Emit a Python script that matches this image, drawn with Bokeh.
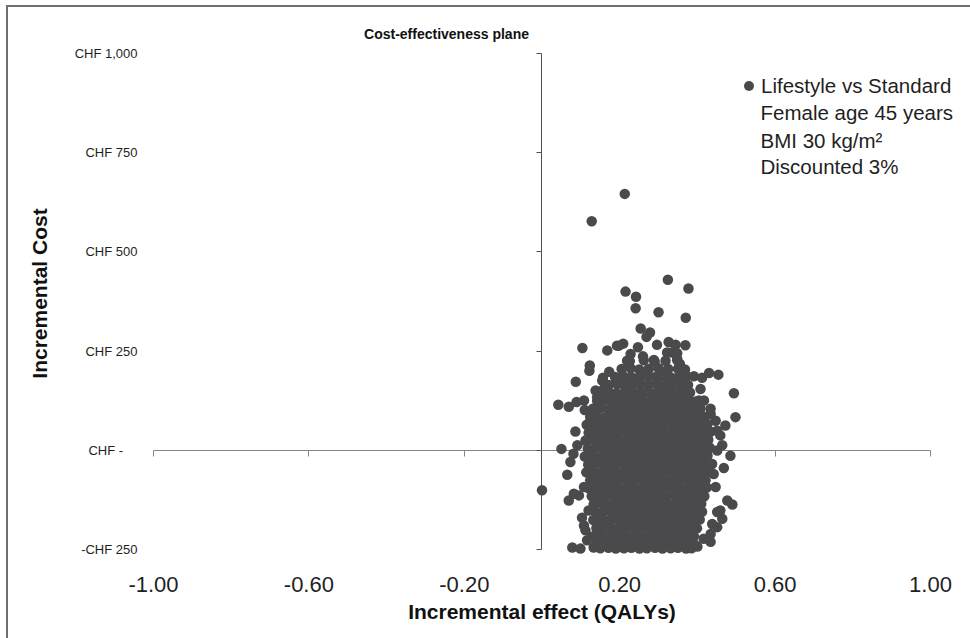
import math
from bokeh.plotting import figure
from bokeh.models import (Range1d, FixedTicker, NumeralTickFormatter, LinearAxis,
                          Label, ColumnDataSource, CustomJSTickFormatter)
from bokeh.embed import file_html
from bokeh.resources import INLINE

FONT = "Liberation Sans"

# ---------------- data ----------------
x_ticks = [-1.0, -0.6, -0.2, 0.2, 0.6, 1.0]
y_ticks = [-250, 0, 250, 500, 750, 1000]
y_tick_labels = ["-CHF 250", "CHF -\u00a0\u00a0\u00a0\u00a0", "CHF 250", "CHF 500",
                 "CHF 750", "CHF 1,000"]

series_name = "Lifestyle vs Standard"
series_notes = ["Female age 45 years", "BMI 30 kg/m\u00b2", "Discounted 3%"]

# scattered replicates around the main cloud
outlier_effect = [0.213, 0.128, 0.324, 0.377, 0.215, 0.242, 0.241, 0.300, 0.370, 0.254,
                  0.278, 0.269, 0.104, 0.168, 0.193, 0.209, 0.247, 0.296, 0.326, 0.344,
                  0.369, 0.333, 0.348, 0.228, 0.219, 0.260, 0.288, 0.123, 0.122, 0.173,
                  0.087, 0.157, 0.192, 0.391, 0.412, 0.430, 0.454, 0.494, 0.365, 0.355,
                  0.322, 0.271, 0.228, 0.408, 0.042, 0.069, 0.089, 0.108, 0.110, 0.138,
                  0.155, 0.498, 0.472, 0.417, 0.434, 0.447, 0.086, 0.000, 0.050, 0.073,
                  0.065, 0.069, 0.095, 0.103, 0.112, 0.116, 0.078, 0.099, 0.133, 0.485,
                  0.468, 0.447, 0.490, 0.477, 0.459, 0.464, 0.451, 0.434, 0.400, 0.459,
                  0.464, 0.081, 0.091, 0.082, 0.108, 0.120, 0.108, 0.129, 0.442, 0.451,
                  0.438, 0.451, 0.438, 0.416, 0.434, 0.404, 0.391, 0.434, 0.451, 0.125,
                  0.142, 0.159, 0.198, 0.322, 0.348]
outlier_cost = [646, 577, 430, 408, 400, 387, 358, 348, 334, 307,
                297, 286, 258, 252, 264, 269, 260, 266, 273, 266,
                265, 247, 245, 243, 226, 237, 228, 214, 201, 198,
                173, 183, 174, 187, 183, 195, 191, 144, 203, 218,
                201, 201, 184, 155, 115, 110, 122, 126, 102, 151,
                176, 84, 63, 126, 105, 75, 48, -100, 4, -29,
                -61, -126, -113, -169, -201, -226, -244, -247, -244, -13,
                -44, -92, -136, -126, -151, -172, -193, -230, -242, 38,
                13, -8, 13, -109, -92, -151, -189, -218, -59, 0,
                -34, -155, -185, -222, -210, 126, 101, 92, 50, 76,
                134, 155, 264, 247, 231]

# dense core of the cloud, one line per cost band
cloud_effect = [
    0.226, 0.262, 0.290, 0.318, 0.348,
    0.205, 0.228, 0.250, 0.275, 0.300, 0.325, 0.350, 0.368,
    0.188, 0.209, 0.231, 0.252, 0.271, 0.292, 0.311, 0.332, 0.352, 0.372,
    0.172, 0.194, 0.213, 0.236, 0.255, 0.276, 0.297, 0.318, 0.337, 0.358, 0.376,
    0.158, 0.171, 0.190, 0.211, 0.230, 0.251, 0.270, 0.291, 0.310, 0.331, 0.350, 0.371, 0.381,
    0.142, 0.161, 0.180, 0.201, 0.220, 0.241, 0.260, 0.281, 0.300, 0.321, 0.340, 0.361, 0.380, 0.398,
    0.131, 0.150, 0.171, 0.190, 0.211, 0.230, 0.251, 0.270, 0.291, 0.310, 0.331, 0.350, 0.371, 0.390, 0.408,
    0.124, 0.140, 0.161, 0.180, 0.201, 0.220, 0.241, 0.260, 0.281, 0.300, 0.321, 0.340, 0.361, 0.380, 0.401, 0.418,
    0.115, 0.131, 0.150, 0.171, 0.190, 0.211, 0.230, 0.251, 0.270, 0.291, 0.310, 0.331, 0.350, 0.371, 0.390, 0.411, 0.426,
    0.120, 0.141, 0.160, 0.181, 0.200, 0.221, 0.240, 0.261, 0.280, 0.301, 0.320, 0.341, 0.360, 0.381, 0.400, 0.421, 0.434,
    0.112, 0.131, 0.150, 0.171, 0.190, 0.211, 0.230, 0.251, 0.270, 0.291, 0.310, 0.331, 0.350, 0.371, 0.390, 0.411, 0.428,
    0.118, 0.140, 0.161, 0.180, 0.201, 0.220, 0.241, 0.260, 0.281, 0.300, 0.321, 0.340, 0.361, 0.380, 0.401, 0.420, 0.432,
    0.110, 0.130, 0.151, 0.170, 0.191, 0.210, 0.231, 0.250, 0.271, 0.290, 0.311, 0.330, 0.351, 0.370, 0.391, 0.410, 0.426,
    0.119, 0.140, 0.161, 0.180, 0.201, 0.220, 0.241, 0.260, 0.281, 0.300, 0.321, 0.340, 0.361, 0.380, 0.401, 0.420, 0.431,
    0.114, 0.131, 0.150, 0.171, 0.190, 0.211, 0.230, 0.251, 0.270, 0.291, 0.310, 0.331, 0.350, 0.371, 0.390, 0.411, 0.428,
    0.124, 0.141, 0.160, 0.181, 0.200, 0.221, 0.240, 0.261, 0.280, 0.301, 0.320, 0.341, 0.360, 0.381, 0.400, 0.421,
    0.120, 0.131, 0.150, 0.171, 0.190, 0.211, 0.230, 0.251, 0.270, 0.291, 0.310, 0.331, 0.350, 0.371, 0.390, 0.411, 0.424,
    0.128, 0.141, 0.160, 0.181, 0.200, 0.221, 0.240, 0.261, 0.280, 0.301, 0.320, 0.341, 0.360, 0.381, 0.400, 0.418,
    0.133, 0.151, 0.170, 0.191, 0.210, 0.231, 0.250, 0.271, 0.290, 0.311, 0.330, 0.351, 0.370, 0.391, 0.410,
    0.138, 0.160, 0.181, 0.200, 0.221, 0.240, 0.261, 0.280, 0.301, 0.320, 0.341, 0.360, 0.381, 0.400, 0.412,
    0.132, 0.151, 0.170, 0.191, 0.210, 0.231, 0.250, 0.271, 0.290, 0.311, 0.330, 0.351, 0.370, 0.391, 0.406,
    0.140, 0.161, 0.180, 0.201, 0.220, 0.241, 0.260, 0.281, 0.300, 0.321, 0.340, 0.361, 0.380, 0.399,
    0.134, 0.151, 0.170, 0.191, 0.210, 0.231, 0.250, 0.271, 0.290, 0.311, 0.330, 0.351, 0.370, 0.391,
    0.141, 0.160, 0.181, 0.200, 0.221, 0.240, 0.261, 0.280, 0.301, 0.320, 0.341, 0.360, 0.381, 0.392,
    0.150, 0.171, 0.190, 0.211, 0.230, 0.251, 0.270, 0.291, 0.310, 0.331, 0.350, 0.371, 0.385,
]
cloud_cost = [
    225, 227, 224, 226, 227,
    205, 207, 204, 206, 207, 205, 206, 204,
    185, 187, 184, 186, 187, 185, 186, 184, 186, 187,
    165, 167, 164, 166, 167, 165, 166, 164, 166, 167, 165,
    145, 147, 144, 146, 147, 145, 146, 144, 146, 147, 145, 147, 146,
    125, 127, 124, 126, 127, 125, 126, 124, 126, 127, 125, 127, 126, 124,
    105, 107, 104, 106, 107, 105, 106, 104, 106, 107, 105, 107, 106, 104, 106,
    85, 87, 84, 86, 87, 85, 86, 84, 86, 87, 85, 87, 86, 84, 86, 85,
    65, 67, 64, 66, 67, 65, 66, 64, 66, 67, 65, 67, 66, 64, 66, 65, 67,
    45, 47, 44, 46, 47, 45, 46, 44, 46, 47, 45, 47, 46, 44, 46, 45, 47,
    25, 27, 24, 26, 27, 25, 26, 24, 26, 27, 25, 27, 26, 24, 26, 25, 27,
    5, 7, 4, 6, 7, 5, 6, 4, 6, 7, 5, 7, 6, 4, 6, 5, 7,
    -15, -13, -16, -14, -13, -15, -14, -16, -14, -13, -15, -13, -14, -16, -14, -15, -13,
    -35, -33, -36, -34, -33, -35, -34, -36, -34, -33, -35, -33, -34, -36, -34, -35, -33,
    -55, -53, -56, -54, -53, -55, -54, -56, -54, -53, -55, -53, -54, -56, -54, -55, -53,
    -75, -73, -76, -74, -73, -75, -74, -76, -74, -73, -75, -73, -74, -76, -74, -75,
    -95, -93, -96, -94, -93, -95, -94, -96, -94, -93, -95, -93, -94, -96, -94, -95, -93,
    -115, -113, -116, -114, -113, -115, -114, -116, -114, -113, -115, -113, -114, -116, -114, -115,
    -135, -133, -136, -134, -133, -135, -134, -136, -134, -133, -135, -133, -134, -136, -134,
    -155, -153, -156, -154, -153, -155, -154, -156, -154, -153, -155, -153, -154, -156, -154,
    -175, -173, -176, -174, -173, -175, -174, -176, -174, -173, -175, -173, -174, -176, -174,
    -195, -193, -196, -194, -193, -195, -194, -196, -194, -193, -195, -193, -194, -196,
    -215, -213, -216, -214, -213, -215, -214, -216, -214, -213, -215, -213, -214, -216,
    -235, -233, -236, -234, -233, -235, -234, -236, -234, -233, -235, -233, -234, -236,
    -246, -245, -247, -246, -245, -247, -246, -245, -247, -246, -245, -247, -246,
]

effect = outlier_effect + cloud_effect
cost = outlier_cost + cloud_cost

# ---------------- figure ----------------
DOT = "#4a4a4c"
TXT = "#1f1f1f"
BORDER = "#6f6f6f"

# frame fills the whole canvas; axes are placed with fixed_location
p = figure(width=970, height=638,
           x_range=Range1d(-1.39382, 1.10296), y_range=Range1d(-473.31, 1132.93),
           x_axis_location=None, y_axis_location=None,
           output_backend="svg", toolbar_location=None,
           min_border_left=0, min_border_right=0, min_border_top=0, min_border_bottom=0)
p.outline_line_color = None
p.background_fill_alpha = 0
p.border_fill_alpha = 0
for g in p.grid:
    g.visible = False
p.styles = {"background": ("linear-gradient(%s, %s) 6px 5px / 2px 700px no-repeat, "
                           "linear-gradient(%s, %s) 6px 5px / 1000px 2px no-repeat, #ffffff")
                          % (BORDER, BORDER, BORDER, BORDER)}

blank = CustomJSTickFormatter(code="return ''")

# tick labels at the low edges of the plot area
xa = LinearAxis(fixed_location=-266.87, ticker=FixedTicker(ticks=x_ticks),
                formatter=NumeralTickFormatter(format="0.00"),
                axis_line_color=None, major_tick_out=0, major_tick_in=0,
                minor_tick_out=0, minor_tick_in=0,
                major_label_text_font=FONT, major_label_text_font_size="22px",
                major_label_text_color=TXT, major_label_standoff=20)
p.add_layout(xa, "below")

ya = LinearAxis(fixed_location=-1.02574, ticker=FixedTicker(ticks=y_ticks),
                major_label_overrides=dict(zip(y_ticks, y_tick_labels)),
                axis_line_color=None, major_tick_out=0, major_tick_in=0,
                minor_tick_out=0, minor_tick_in=0,
                major_label_text_font=FONT, major_label_text_font_size="13px",
                major_label_text_color=TXT, major_label_standoff=6)
p.add_layout(ya, "left")

# axes crossing at the origin
x0 = LinearAxis(fixed_location=0, bounds=(-1.0, 1.0), ticker=FixedTicker(ticks=x_ticks),
                formatter=blank, major_tick_out=6, major_tick_in=0,
                minor_tick_out=0, minor_tick_in=0,
                axis_line_color="#858585", major_tick_line_color="#858585",
                major_label_standoff=0, level="underlay")
p.add_layout(x0, "below")
y0 = LinearAxis(fixed_location=0, bounds=(-250, 1000), ticker=FixedTicker(ticks=y_ticks),
                formatter=blank, major_tick_out=5, major_tick_in=0,
                minor_tick_out=0, minor_tick_in=0,
                axis_line_color="#505050", major_tick_line_color="#505050",
                major_label_standoff=0, level="underlay")
p.add_layout(y0, "left")

src = ColumnDataSource(dict(effect=effect, cost=cost))
p.scatter("effect", "cost", source=src, size=10.5, fill_color=DOT, line_color=None,
          legend_label=series_name)

lg = p.legend[0]
lg.location = (736, 540)
lg.padding = 0
lg.margin = 0
lg.spacing = 0
lg.border_line_alpha = 0
lg.background_fill_alpha = 0
lg.glyph_width = 25
lg.glyph_height = 25
lg.label_height = 25
lg.label_standoff = 0
lg.label_text_font = FONT
lg.label_text_font_size = "20.5px"
lg.label_text_color = TXT

for txt, yy in zip(series_notes, [850.0, 781.2, 715.8]):
    p.add_layout(Label(x=0.5624, y=yy, text=txt, text_font=FONT, text_font_size="20.5px",
                       text_color=TXT, text_align="left", text_baseline="alphabetic"))

p.add_layout(Label(x=-0.2458, y=1048.6, text="Cost-effectiveness plane", text_font=FONT,
                   text_font_size="14px", text_font_style="bold", text_color="#111111",
                   text_align="center", text_baseline="alphabetic"))
p.add_layout(Label(x=0.0, y=-405.8, text="Incremental effect (QALYs)", text_font=FONT,
                   text_font_size="21px", text_font_style="bold", text_color="#111111",
                   text_align="center", text_baseline="alphabetic"))
p.add_layout(Label(x=-1.2937, y=395.3, text="Incremental Cost", angle=math.pi / 2,
                   text_font=FONT, text_font_size="21px", text_font_style="bold",
                   text_color="#111111", text_align="center", text_baseline="alphabetic"))

open("out.html", "w").write(file_html(p, INLINE))
